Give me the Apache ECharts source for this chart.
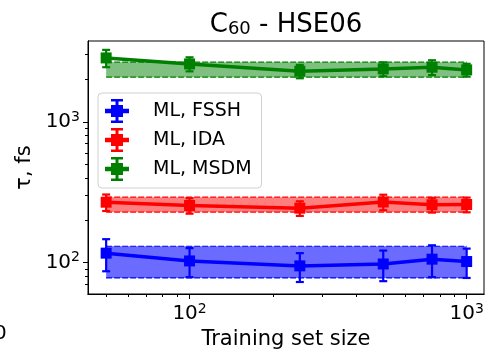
<!DOCTYPE html>
<html>
<head>
<meta charset="utf-8">
<script src="https://cdn.jsdelivr.net/npm/echarts@6/dist/echarts.min.js"></script>
<style>html,body{margin:0;padding:0;background:#fff}#chart{width:488px;height:349px}</style>
</head>
<body>
<div id="chart"></div>
<script>
var sizes = [50, 100, 250, 500, 750, 1000];

var fsshMean = [117, 103, 95, 98, 106, 102];
var fsshErr = [30, 24, 22, 24, 27, 24];
var fsshBand = [78, 131];

var idaMean = [269, 255, 244, 270, 258, 259];
var idaErr = [36, 32, 29, 34, 31, 31];
var idaBand = [229, 292];

var msdmMean = [2844, 2578, 2289, 2376, 2443, 2338];
var msdmErr = [400, 295, 250, 270, 295, 245];
var msdmBand = [2075, 2651];

var xMajor = [100, 1000];
var xMinor = [50, 60, 70, 80, 90, 200, 300, 400, 500, 600, 700, 800, 900];
var yMajor = [100, 1000];
var yMinor = [70, 80, 90, 200, 300, 400, 500, 600, 700, 800, 900, 2000, 3000];

var font = 'DejaVu Sans';

// error-bar legend icon: horizontal line, bar with caps, square marker
var errIcon = 'path://M0,6.5H16V9.5H0Z M7,0H9V16H7Z M4,0H12V1.6H4Z M4,14.4H12V16H4Z M4,4H12V12H4Z';

function powLabel(v) {
    var e = Math.round(Math.log10(v));
    return '{b|10}{s|' + e + '}';
}
var powRich = {
    b: {fontSize: 20, fontFamily: font, color: '#000', lineHeight: 24},
    s: {fontSize: 14, fontFamily: font, color: '#000', verticalAlign: 'top', lineHeight: 24}
};

var blackLine = {show: true, lineStyle: {color: '#000', width: 1}};

function bandItem(color, fill) {
    return function (params, api) {
        var a = api.coord([api.value(0), api.value(3)]);
        var b = api.coord([api.value(1), api.value(2)]);
        var dash = {stroke: color, lineWidth: 1.2, lineDash: [6, 2]};
        return {
            type: 'group',
            children: [
                {type: 'rect', shape: {x: a[0], y: a[1], width: b[0] - a[0], height: b[1] - a[1]}, style: {fill: fill}},
                {type: 'line', shape: {x1: a[0], y1: a[1], x2: b[0], y2: a[1]}, style: dash},
                {type: 'line', shape: {x1: a[0], y1: b[1], x2: b[0], y2: b[1]}, style: dash}
            ]
        };
    };
}

function errItem(color) {
    return function (params, api) {
        var lo = api.coord([api.value(0), api.value(1)]);
        var hi = api.coord([api.value(0), api.value(2)]);
        var st = {stroke: color, lineWidth: 2.2};
        return {
            type: 'group',
            children: [
                {type: 'line', shape: {x1: lo[0], y1: lo[1], x2: hi[0], y2: hi[1]}, style: st},
                {type: 'line', shape: {x1: lo[0] - 4, y1: lo[1], x2: lo[0] + 4, y2: lo[1]}, style: st},
                {type: 'line', shape: {x1: hi[0] - 4, y1: hi[1], x2: hi[0] + 4, y2: hi[1]}, style: st}
            ]
        };
    };
}

function methodSeries(name, color, fill, mean, err, band) {
    return [{
        type: 'custom',
        renderItem: bandItem(color, fill),
        data: [[sizes[0], sizes[sizes.length - 1], band[0], band[1]]],
        encode: {x: [0, 1], y: [2, 3]},
        silent: true,
        z: 1
    }, {
        type: 'custom',
        renderItem: errItem(color),
        data: sizes.map(function (s, i) { return [s, mean[i] - err[i], mean[i] + err[i]]; }),
        encode: {x: 0, y: [1, 2]},
        silent: true,
        z: 3
    }, {
        name: name,
        type: 'line',
        data: sizes.map(function (s, i) { return [s, mean[i]]; }),
        color: color,
        symbol: 'rect',
        symbolSize: 11,
        lineStyle: {width: 3.5},
        silent: true,
        z: 4
    }];
}

var myChart = echarts.init(document.getElementById('chart'));
option = {
    animation: false,
    title: {
        text: 'C{sub|60} - HSE06',
        left: 286,
        top: 12,
        textAlign: 'center',
        padding: 0,
        textStyle: {
            fontSize: 26,
            fontWeight: 'normal',
            fontFamily: font,
            color: '#000',
            rich: {
                sub: {fontSize: 18, fontFamily: font, color: '#000', verticalAlign: 'bottom'}
            }
        }
    },
    grid: {
        left: 88, right: 4, top: 41, bottom: 55,
        outerBoundsMode: 'none',
        show: true, borderColor: '#000', borderWidth: 1
    },
    legend: {
        orient: 'vertical',
        left: 98,
        top: 93,
        data: [
            {name: 'ML, FSSH', icon: errIcon},
            {name: 'ML, IDA', icon: errIcon},
            {name: 'ML, MSDM', icon: errIcon}
        ],
        formatter: function (name) { return '\u2002' + name; },
        itemWidth: 43,
        itemHeight: 24,
        itemGap: 5,
        padding: [6, 10, 7, 7],
        borderColor: '#d0d0d0',
        borderWidth: 1,
        borderRadius: 4,
        backgroundColor: 'rgba(255,255,255,0.8)',
        textStyle: {fontSize: 19, fontFamily: font, color: '#000'}
    },
    xAxis: [{
        type: 'log',
        logBase: 10,
        min: 43,
        max: 1155,
        axisLine: blackLine,
        splitLine: {show: false},
        axisTick: {show: true, customValues: xMinor, length: 3, lineStyle: {color: '#000', width: 1}},
        axisLabel: {customValues: xMajor, formatter: powLabel, rich: powRich, margin: 8},
        name: 'Training set size',
        nameLocation: 'middle',
        nameGap: 30,
        nameTextStyle: {fontSize: 21, fontFamily: font, color: '#000'}
    }, {
        type: 'log',
        logBase: 10,
        min: 43,
        max: 1155,
        position: 'bottom',
        axisLine: blackLine,
        splitLine: {show: false},
        axisLabel: {show: false},
        axisTick: {show: true, customValues: xMajor, length: 5, lineStyle: {color: '#000', width: 1}}
    }],
    yAxis: [{
        type: 'log',
        logBase: 10,
        min: 60,
        max: 3750,
        axisLine: blackLine,
        splitLine: {show: false},
        axisTick: {show: true, customValues: yMinor, length: 3, lineStyle: {color: '#000', width: 1}},
        axisLabel: {customValues: yMajor, formatter: powLabel, rich: powRich, margin: 8},
        name: 'τ, fs',
        nameLocation: 'middle',
        nameGap: 50,
        nameTextStyle: {fontSize: 21, fontFamily: font, color: '#000'}
    }, {
        type: 'log',
        logBase: 10,
        min: 60,
        max: 3750,
        position: 'left',
        axisLine: blackLine,
        splitLine: {show: false},
        axisLabel: {show: false},
        axisTick: {show: true, customValues: yMajor, length: 5, lineStyle: {color: '#000', width: 1}}
    }],
    graphic: [{
        type: 'text',
        left: -6,
        top: 324,
        style: {text: '0', fontSize: 20, fontFamily: font, fill: '#000'}
    }],
    series: [].concat(
        methodSeries('ML, FSSH', '#0000ff', 'rgba(0,0,255,0.58)', fsshMean, fsshErr, fsshBand),
        methodSeries('ML, IDA', '#ff0000', 'rgba(255,0,0,0.5)', idaMean, idaErr, idaBand),
        methodSeries('ML, MSDM', '#008000', 'rgba(0,128,0,0.5)', msdmMean, msdmErr, msdmBand)
    )
};
myChart.setOption(option);
</script>
</body>
</html>
